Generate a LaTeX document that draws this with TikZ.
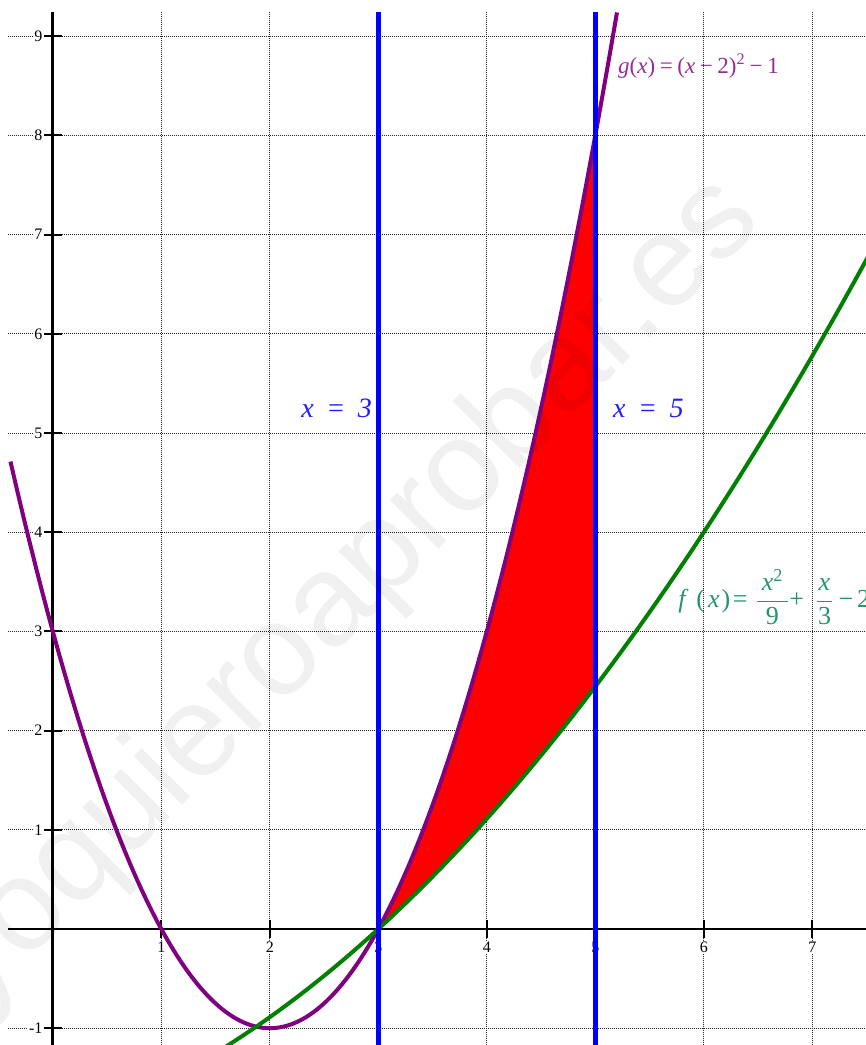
\documentclass[tikz,border=0pt]{standalone}
\usepackage{amsmath}
\usepackage{fontspec}
\setmainfont{Liberation Serif}
\newfontfamily\wmfont{Liberation Sans}
\definecolor{gcol}{RGB}{128,0,128}
\definecolor{fcol}{RGB}{0,128,0}
\definecolor{gtxt}{RGB}{150,45,150}
\definecolor{ftxt}{RGB}{35,150,105}
\definecolor{lblue}{RGB}{30,30,255}
\tikzset{
  gridline/.style={line width=0.9pt, dash pattern=on 1pt off 1pt, black!85},
  axisline/.style={line width=2.6pt, black},
  tickmark/.style={line width=2pt, black},
  ticklabel/.style={font=\fontsize{16}{16}\selectfont, inner sep=0.8pt, fill=white},
  boundline/.style={blue, line width=4.5pt},
  gcurve/.style={gcol, line width=4pt},
  fcurve/.style={fcol, line width=4pt},
  region/.style={fill=red},
  bluelabel/.style={text=lblue, font=\fontsize{28}{28}\selectfont\itshape, inner sep=0pt},
  glabel/.style={text=gtxt, font=\fontsize{23}{23}\selectfont, inner sep=0pt},
  flabel/.style={text=ftxt, font=\fontsize{26}{26}\selectfont, inner sep=0pt},
  watermark/.style={text=black, text opacity=0.06, font=\wmfont\fontsize{130}{130}\selectfont, inner sep=0pt},
}
\begin{document}
\begin{tikzpicture}[x=108.5pt,y=99.2pt]
\useasboundingbox (-0.4866,-1.1694) rectangle (7.4949,9.3649);
\clip (-0.4866,-1.1694) rectangle (7.4949,9.3649);
% grid
\foreach \j in {-1,1,2,...,9} {
  \coordinate (gl\j) at (-0.413,\j); \coordinate (gr\j) at (7.6,\j);
  \draw[gridline] (gl\j) -- (gr\j);
}
\foreach \i in {1,...,7} {
  \coordinate (gt\i) at (\i,9.244); \coordinate (gb\i) at (\i,-1.3);
  \draw[gridline] (gt\i) -- (gb\i);
}
% shaded region
\fill[region] plot[domain=3:5,samples=80] (\x,{(\x-2)^2-1})
  -- plot[domain=5:3,samples=80] (\x,{\x*\x/9+\x/3-2}) -- cycle;
% axes
\coordinate (xs) at (-0.413,0); \coordinate (xe) at (7.6,0);
\coordinate (ys) at (0,9.244);  \coordinate (ye) at (0,-1.3);
\draw[axisline] (xs) -- (xe);
\draw[axisline] (ys) -- (ye);
% ticks and labels
\foreach \j in {-1,1,2,...,9} {
  \coordinate (ta\j) at (-0.081,\j); \coordinate (tb\j) at (0.085,\j);
  \node[ticklabel,anchor=east] (yl\j) at (-0.086,\j) {\j};
  \draw[tickmark] (ta\j) -- (tb\j);
}
\foreach \i in {1,...,7} {
  \coordinate (tc\i) at (\i,0.09); \coordinate (td\i) at (\i,-0.09);
  \node[ticklabel] (xl\i) at (\i,-0.18) {\i};
  \draw[tickmark] (tc\i) -- (td\i);
}
% curves
\draw[gcurve] plot[domain=-0.39:5.201,samples=160,smooth] (\x,{(\x-2)^2-1});
\draw[fcurve] plot[domain=1.6:7.55,samples=120,smooth] (\x,{\x*\x/9+\x/3-2});
% vertical bounds
\coordinate (b3t) at (3,9.244); \coordinate (b3b) at (3,-1.3);
\coordinate (b5t) at (5,9.244); \coordinate (b5b) at (5,-1.3);
\draw[boundline] (b3t) -- (b3b);
\draw[boundline] (b5t) -- (b5b);
% labels
\node[bluelabel,anchor=base east] (l3) at (2.942,5.161) {x\hspace{0.45em}=\hspace{0.45em}3};
\node[bluelabel,anchor=base west] (l5) at (5.163,5.161) {x\hspace{0.45em}=\hspace{0.45em}5};
\node[glabel,anchor=base west] (glab) at (5.209,8.619)
  {\textit{g}(\textit{x})\hspace{0.2em}=\hspace{0.2em}(\textit{x}\hspace{0.2em}−\hspace{0.2em}2)\textsuperscript{2}\hspace{0.2em}−\hspace{0.2em}1};
\node[flabel,anchor=west] (flab) at (5.763,3.347)
  {$\text{\textit{f}\hspace{0.3em}(\hspace{0.12em}\textit{x}\hspace{0.08em})}\hspace{0.1em}\text{=}\hspace{0.3em}\dfrac{\text{\hspace{0.2em}\textit{x}}^{\text{2}}\hspace{0.2em}}{\text{9}}\text{+}\hspace{0.45em}\dfrac{\text{\hspace{0.07em}\textit{x}\hspace{0.07em}}}{\text{3}}\hspace{0.2em}\text{−}\hspace{0.15em}\text{2}$};
% watermark
\node[watermark,rotate=45,anchor=base] (wm) at (2.933,3.145) {yoquieroaprobar.es};
\end{tikzpicture}
\end{document}
